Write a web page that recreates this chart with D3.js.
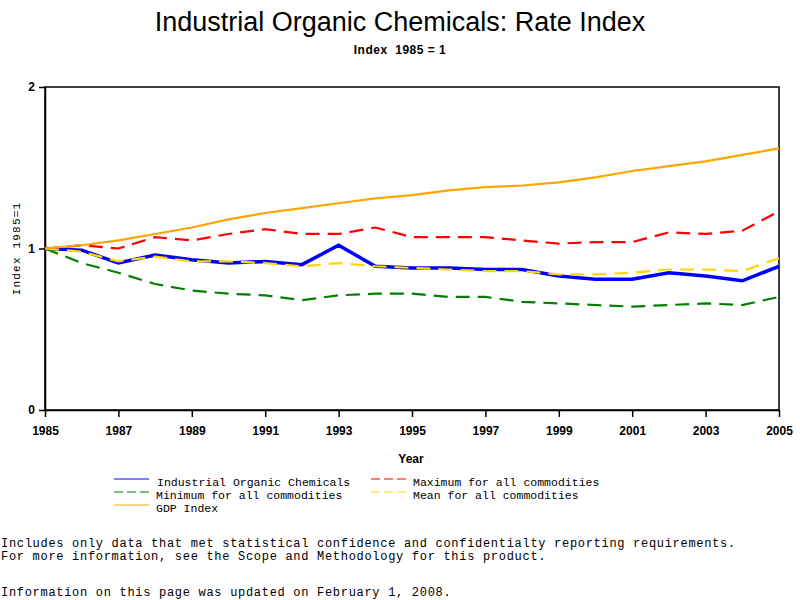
<!DOCTYPE html>
<html>
<head>
<meta charset="utf-8">
<script src="https://cdn.jsdelivr.net/npm/d3@7"></script>
<style>
  body { margin: 0; background: #fff; }
  svg { display: block; }
</style>
</head>
<body>
<div id="chart"></div>
<script>
// data
var years = d3.range(1985, 2006);
var chemicals = [1.00, 0.99, 0.91, 0.96, 0.93, 0.91, 0.92, 0.90, 1.02, 0.89, 0.88, 0.88, 0.87, 0.87, 0.83, 0.81, 0.81, 0.85, 0.83, 0.80, 0.89];
var maxAll = [1.00, 1.02, 1.00, 1.07, 1.05, 1.09, 1.12, 1.09, 1.09, 1.13, 1.07, 1.07, 1.07, 1.05, 1.03, 1.04, 1.04, 1.10, 1.09, 1.11, 1.23];
var minAll = [1.00, 0.91, 0.85, 0.78, 0.74, 0.72, 0.71, 0.68, 0.71, 0.72, 0.72, 0.70, 0.70, 0.67, 0.66, 0.65, 0.64, 0.65, 0.66, 0.65, 0.70];
var meanAll = [1.00, 0.98, 0.92, 0.95, 0.92, 0.92, 0.91, 0.89, 0.91, 0.89, 0.88, 0.87, 0.86, 0.86, 0.84, 0.84, 0.85, 0.87, 0.87, 0.86, 0.94];
var gdp = [1.00, 1.02, 1.05, 1.09, 1.13, 1.18, 1.22, 1.25, 1.28, 1.31, 1.33, 1.36, 1.38, 1.39, 1.41, 1.44, 1.48, 1.51, 1.54, 1.58, 1.62];
var xTicks = [1985, 1987, 1989, 1991, 1993, 1995, 1997, 1999, 2001, 2003, 2005];
var yTicks = [0, 1, 2];

var series = [
  { name: 'Industrial Organic Chemicals', values: chemicals, color: '#0000ff', width: 3.5, dash: null },
  { name: 'Maximum for all commodities', values: maxAll, color: '#ff0000', width: 2.2, dash: '14,8' },
  { name: 'Minimum for all commodities', values: minAll, color: '#008000', width: 2.2, dash: '14,8' },
  { name: 'Mean for all commodities', values: meanAll, color: '#ffd700', width: 2.2, dash: '14,8' },
  { name: 'GDP Index', values: gdp, color: '#ffa500', width: 2.2, dash: null }
];

(function () {
  var width = 800, height = 600;
  var plotLeft = 45, plotRight = 779, plotTop = 87, plotBottom = 410;

  var svg = d3.select('#chart').append('svg')
    .attr('width', width)
    .attr('height', height);

  var x = d3.scaleLinear().domain([1985, 2005]).range([plotLeft, plotRight]);
  var y = d3.scaleLinear().domain([0, 2]).range([plotBottom, plotTop]);

  // titles
  svg.append('text')
    .attr('x', 400).attr('y', 31)
    .attr('text-anchor', 'middle')
    .attr('font-family', 'Liberation Sans, Arial, sans-serif')
    .attr('font-size', 27)
    .text('Industrial Organic Chemicals: Rate Index');

  svg.append('text')
    .attr('x', 400).attr('y', 54)
    .attr('text-anchor', 'middle')
    .attr('font-family', 'Liberation Sans, Arial, sans-serif')
    .attr('font-weight', 'bold')
    .attr('font-size', 12)
    .attr('letter-spacing', 0.5)
    .attr('xml:space', 'preserve')
    .text('Index  1985 = 1');

  // axes
  var xAxis = svg.append('g')
    .attr('transform', 'translate(0,' + plotBottom + ')')
    .call(d3.axisBottom(x).tickValues(xTicks).tickFormat(d3.format('d')).tickSize(7).tickSizeOuter(0).tickPadding(9));
  var yAxis = svg.append('g')
    .attr('transform', 'translate(' + plotLeft + ',0)')
    .call(d3.axisLeft(y).tickValues(yTicks).tickFormat(d3.format('d')).tickSize(6).tickSizeOuter(0).tickPadding(4));

  [xAxis, yAxis].forEach(function (g) {
    g.select('.domain').attr('stroke', '#000').attr('stroke-width', 1.5);
    g.selectAll('.tick line').attr('stroke', '#000').attr('stroke-width', 1.5);
    g.selectAll('.tick text')
      .attr('fill', '#000')
      .attr('font-family', 'Liberation Sans, Arial, sans-serif')
      .attr('font-weight', 'bold')
      .attr('font-size', 12);
  });

  // frame top/right
  svg.append('rect')
    .attr('x', plotLeft).attr('y', plotTop)
    .attr('width', plotRight - plotLeft).attr('height', plotBottom - plotTop)
    .attr('fill', 'none')
    .attr('stroke', '#000')
    .attr('stroke-width', 1.5);

  svg.append('text')
    .attr('x', 411).attr('y', 463)
    .attr('text-anchor', 'middle')
    .attr('font-family', 'Liberation Sans, Arial, sans-serif')
    .attr('font-weight', 'bold')
    .attr('font-size', 12)
    .text('Year');

  svg.append('text')
    .attr('transform', 'translate(20,' + ((plotTop + plotBottom) / 2) + ') rotate(-90)')
    .attr('text-anchor', 'middle')
    .attr('font-family', 'Liberation Mono, DejaVu Sans Mono, monospace')
    .attr('font-size', 11)
    .attr('letter-spacing', 1.2)
    .text('Index 1985=1');

  // lines
  var line = d3.line()
    .x(function (d, i) { return x(years[i]); })
    .y(function (d) { return y(d); });

  svg.selectAll('.series')
    .data(series)
    .enter()
    .append('path')
    .attr('class', 'series')
    .attr('d', function (d) { return line(d.values); })
    .attr('fill', 'none')
    .attr('stroke', function (d) { return d.color; })
    .attr('stroke-width', function (d) { return d.width; })
    .attr('stroke-dasharray', function (d) { return d.dash; });

  // legend
  var legendPos = [[114, 479], [371, 479], [114, 492], [371, 492], [114, 505]];
  var legend = svg.selectAll('.legend')
    .data(series)
    .enter()
    .append('g')
    .attr('class', 'legend')
    .attr('transform', function (d, i) { return 'translate(' + legendPos[i][0] + ',' + legendPos[i][1] + ')'; });

  legend.append('line')
    .attr('x1', 0).attr('x2', 35)
    .attr('stroke', function (d) { return d.color; })
    .attr('stroke-width', 1.2)
    .attr('stroke-dasharray', function (d) { return d.dash ? '9,4' : null; });

  legend.append('text')
    .attr('x', function (d, i) { return i === 0 ? 43 : 42; })
    .attr('y', 7)
    .attr('font-family', 'Liberation Mono, DejaVu Sans Mono, monospace')
    .attr('font-size', 11.5)
    .text(function (d) { return d.name; });

  // footnotes
  var notes = [
    ['Includes only data that met statistical confidence and confidentialty reporting requirements.', 547],
    ['For more information, see the Scope and Methodology for this product.', 560],
    ['Information on this page was updated on February 1, 2008.', 596]
  ];
  svg.selectAll('.note')
    .data(notes)
    .enter()
    .append('text')
    .attr('class', 'note')
    .attr('x', 1)
    .attr('y', function (d) { return d[1]; })
    .attr('font-family', 'Liberation Mono, DejaVu Sans Mono, monospace')
    .attr('font-size', 12)
    .attr('letter-spacing', 0.7)
    .text(function (d) { return d[0]; });
})();
</script>
</body>
</html>
